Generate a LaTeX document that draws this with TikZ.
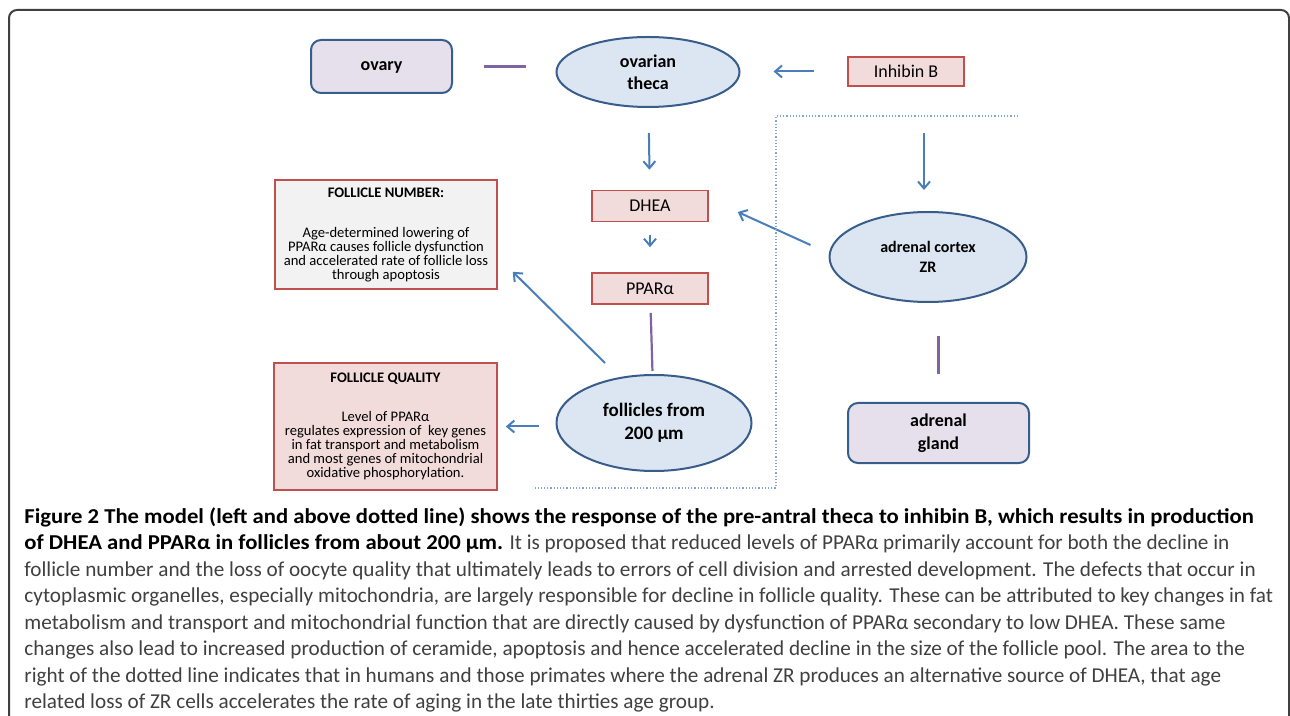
\documentclass[tikz,border=0pt]{standalone}
\usepackage{fontspec}
\setmainfont{Carlito}
\newfontfamily\captfont{Carlito}[BoldFeatures={FakeStretch=1.07}]
\usetikzlibrary{shapes.geometric,arrows.meta}

\definecolor{ellblue}{HTML}{DCE6F2}
\definecolor{edgeblue}{HTML}{385D8A}
\definecolor{organfill}{HTML}{E6E0EC}
\definecolor{boxpink}{HTML}{F2DCDB}
\definecolor{boxred}{HTML}{C0504D}
\definecolor{notegray}{HTML}{F2F2F2}
\definecolor{arrowblue}{HTML}{4A7EBB}
\definecolor{linkpurple}{HTML}{8064A2}
\definecolor{zoneblue}{HTML}{7FA6D6}

\tikzset{
  tissue/.style={ellipse, draw=edgeblue, fill=ellblue, line width=1pt, inner sep=0pt,
    align=center, font=\bfseries\fontsize{9}{11}\selectfont},
  organ/.style={draw=edgeblue, fill=organfill, rounded corners=5pt, line width=1pt,
    align=center, font=\bfseries\fontsize{9}{11.5}\selectfont},
  hormone/.style={draw=boxred, fill=boxpink, line width=0.8pt, inner sep=0pt,
    font=\fontsize{9}{11}\selectfont},
  notebox/.style={draw=boxred, line width=0.8pt, align=center, inner sep=0pt,
    font=\fontsize{7.3}{7}\selectfont},
  flow/.style={draw=arrowblue, line width=1pt, -{Straight Barb[length=3.5pt,width=6pt]}},
  link/.style={draw=linkpurple, line width=1.1pt},
}

\begin{document}
\begin{tikzpicture}[x=0.5pt, y=-0.5pt]
\useasboundingbox (0,0) rectangle (1290,716);
% frame of the figure
\draw[black!75, line width=1pt, rounded corners=4pt] (9,730) -- (9,10) -- (1289,10) -- (1289,730);

% ovary and follicle side
\node[organ, text depth=0pt, minimum width=70.5pt, minimum height=26.5pt] (ovary) at (381.5,66.5) {ovary};
\node[tissue, minimum width=91.5pt, minimum height=35pt] (theca) at (648,72) {ovarian\\theca};
\node[hormone, minimum width=58pt, minimum height=14.5pt] (inhibin) at (906,71.5) {Inhibin B};
\node[hormone, minimum width=58pt, minimum height=15.5pt] (dhea) at (650,206) {DHEA};
\node[hormone, minimum width=58pt, minimum height=15.5pt] (ppar) at (650,288.5) {PPARα};
\node[tissue, minimum width=97.5pt, minimum height=48pt, font=\bfseries\fontsize{9.5}{11.5}\selectfont]
  (foll) at (654,423) {follicles from\\200 µm};
\node[notebox, fill=notegray, minimum width=111pt, minimum height=54.5pt] (number) at (386,234.5)
  {\textbf{FOLLICLE NUMBER:}\\[13pt]Age-determined lowering of\\PPARα causes follicle dysfunction\\and accelerated rate of follicle loss\\through apoptosis};
\node[notebox, fill=boxpink, minimum width=111.5pt, minimum height=63.5pt] (quality) at (385.5,426.5)
  {\textbf{FOLLICLE QUALITY}\\[12.5pt]Level of PPARα\\regulates expression of\ \ key genes\\in fat transport and metabolism\\and most genes of mitochondrial\\oxidative phosphorylation.};

% adrenal side
\node[tissue, minimum width=98.5pt, minimum height=45pt, font=\bfseries\fontsize{8}{10}\selectfont]
  (cortex) at (928,257) {adrenal cortex\\ZR};
\node[organ, minimum width=90.5pt, minimum height=30pt] (gland) at (938.5,433) {adrenal\\gland};
\coordinate (zrin) at (924,133);

% connectors
\draw[link, shorten <=15.5pt, shorten >=15pt] (ovary.east) -- (ovary.east -| theca.west);
\draw[flow, shorten <=16.5pt, shorten >=16.5pt] (inhibin.west) -- (inhibin.west -| theca.east);
\draw[flow, shorten <=12.5pt, shorten >=10pt] (theca) -- (dhea);
\draw[flow, shorten <=6.5pt, shorten >=12.5pt] (dhea) -- (ppar);
\draw[link, shorten <=4pt, shorten >=1.5pt] (ppar) -- (foll);
\draw[flow] ([shift={(-49,-60)}]foll.center) -- ([shift={(15,-18)}]number.south east);
\draw[flow, shorten <=8.5pt, shorten >=4pt] (quality.east -| foll.west) -- (quality.east);
\draw[flow, shorten >=10.5pt] (zrin) -- (zrin |- cortex.north);
\draw[flow] ([shift={(-18,-12)}]cortex.west) -- ([shift={(29,6)}]dhea.east);
\draw[link, shorten <=16.5pt, shorten >=14pt] (gland.north |- cortex.south) -- (gland.north);

% dotted border of the adrenal area
\draw[zoneblue, densely dotted, line width=0.6pt] (1018,116) -- (776,116) -- (776,488) -- (535,488);

% caption
\node[anchor=north west, align=left, inner sep=0pt, text=black!75,
  font=\captfont\fontsize{10.6}{13.25}\selectfont] (caption) at (24,507)
  {\textcolor{black}{\textbf{Figure 2 The model (left and above dotted line) shows the response of the pre-antral theca to inhibin B, which results in production}}\\
   \textcolor{black}{\textbf{of DHEA and PPARα in follicles from about 200 µm.}} It is proposed that reduced levels of PPARα primarily account for both the decline in\\
   follicle number and the loss of oocyte quality that ultimately leads to errors of cell division and arrested development. The defects that occur in\\
   cytoplasmic organelles, especially mitochondria, are largely responsible for decline in follicle quality. These can be attributed to key changes in fat\\
   metabolism and transport and mitochondrial function that are directly caused by dysfunction of PPARα secondary to low DHEA. These same\\
   changes also lead to increased production of ceramide, apoptosis and hence accelerated decline in the size of the follicle pool. The area to the\\
   right of the dotted line indicates that in humans and those primates where the adrenal ZR produces an alternative source of DHEA, that age\\
   related loss of ZR cells accelerates the rate of aging in the late thirties age group.};
\end{tikzpicture}
\end{document}
